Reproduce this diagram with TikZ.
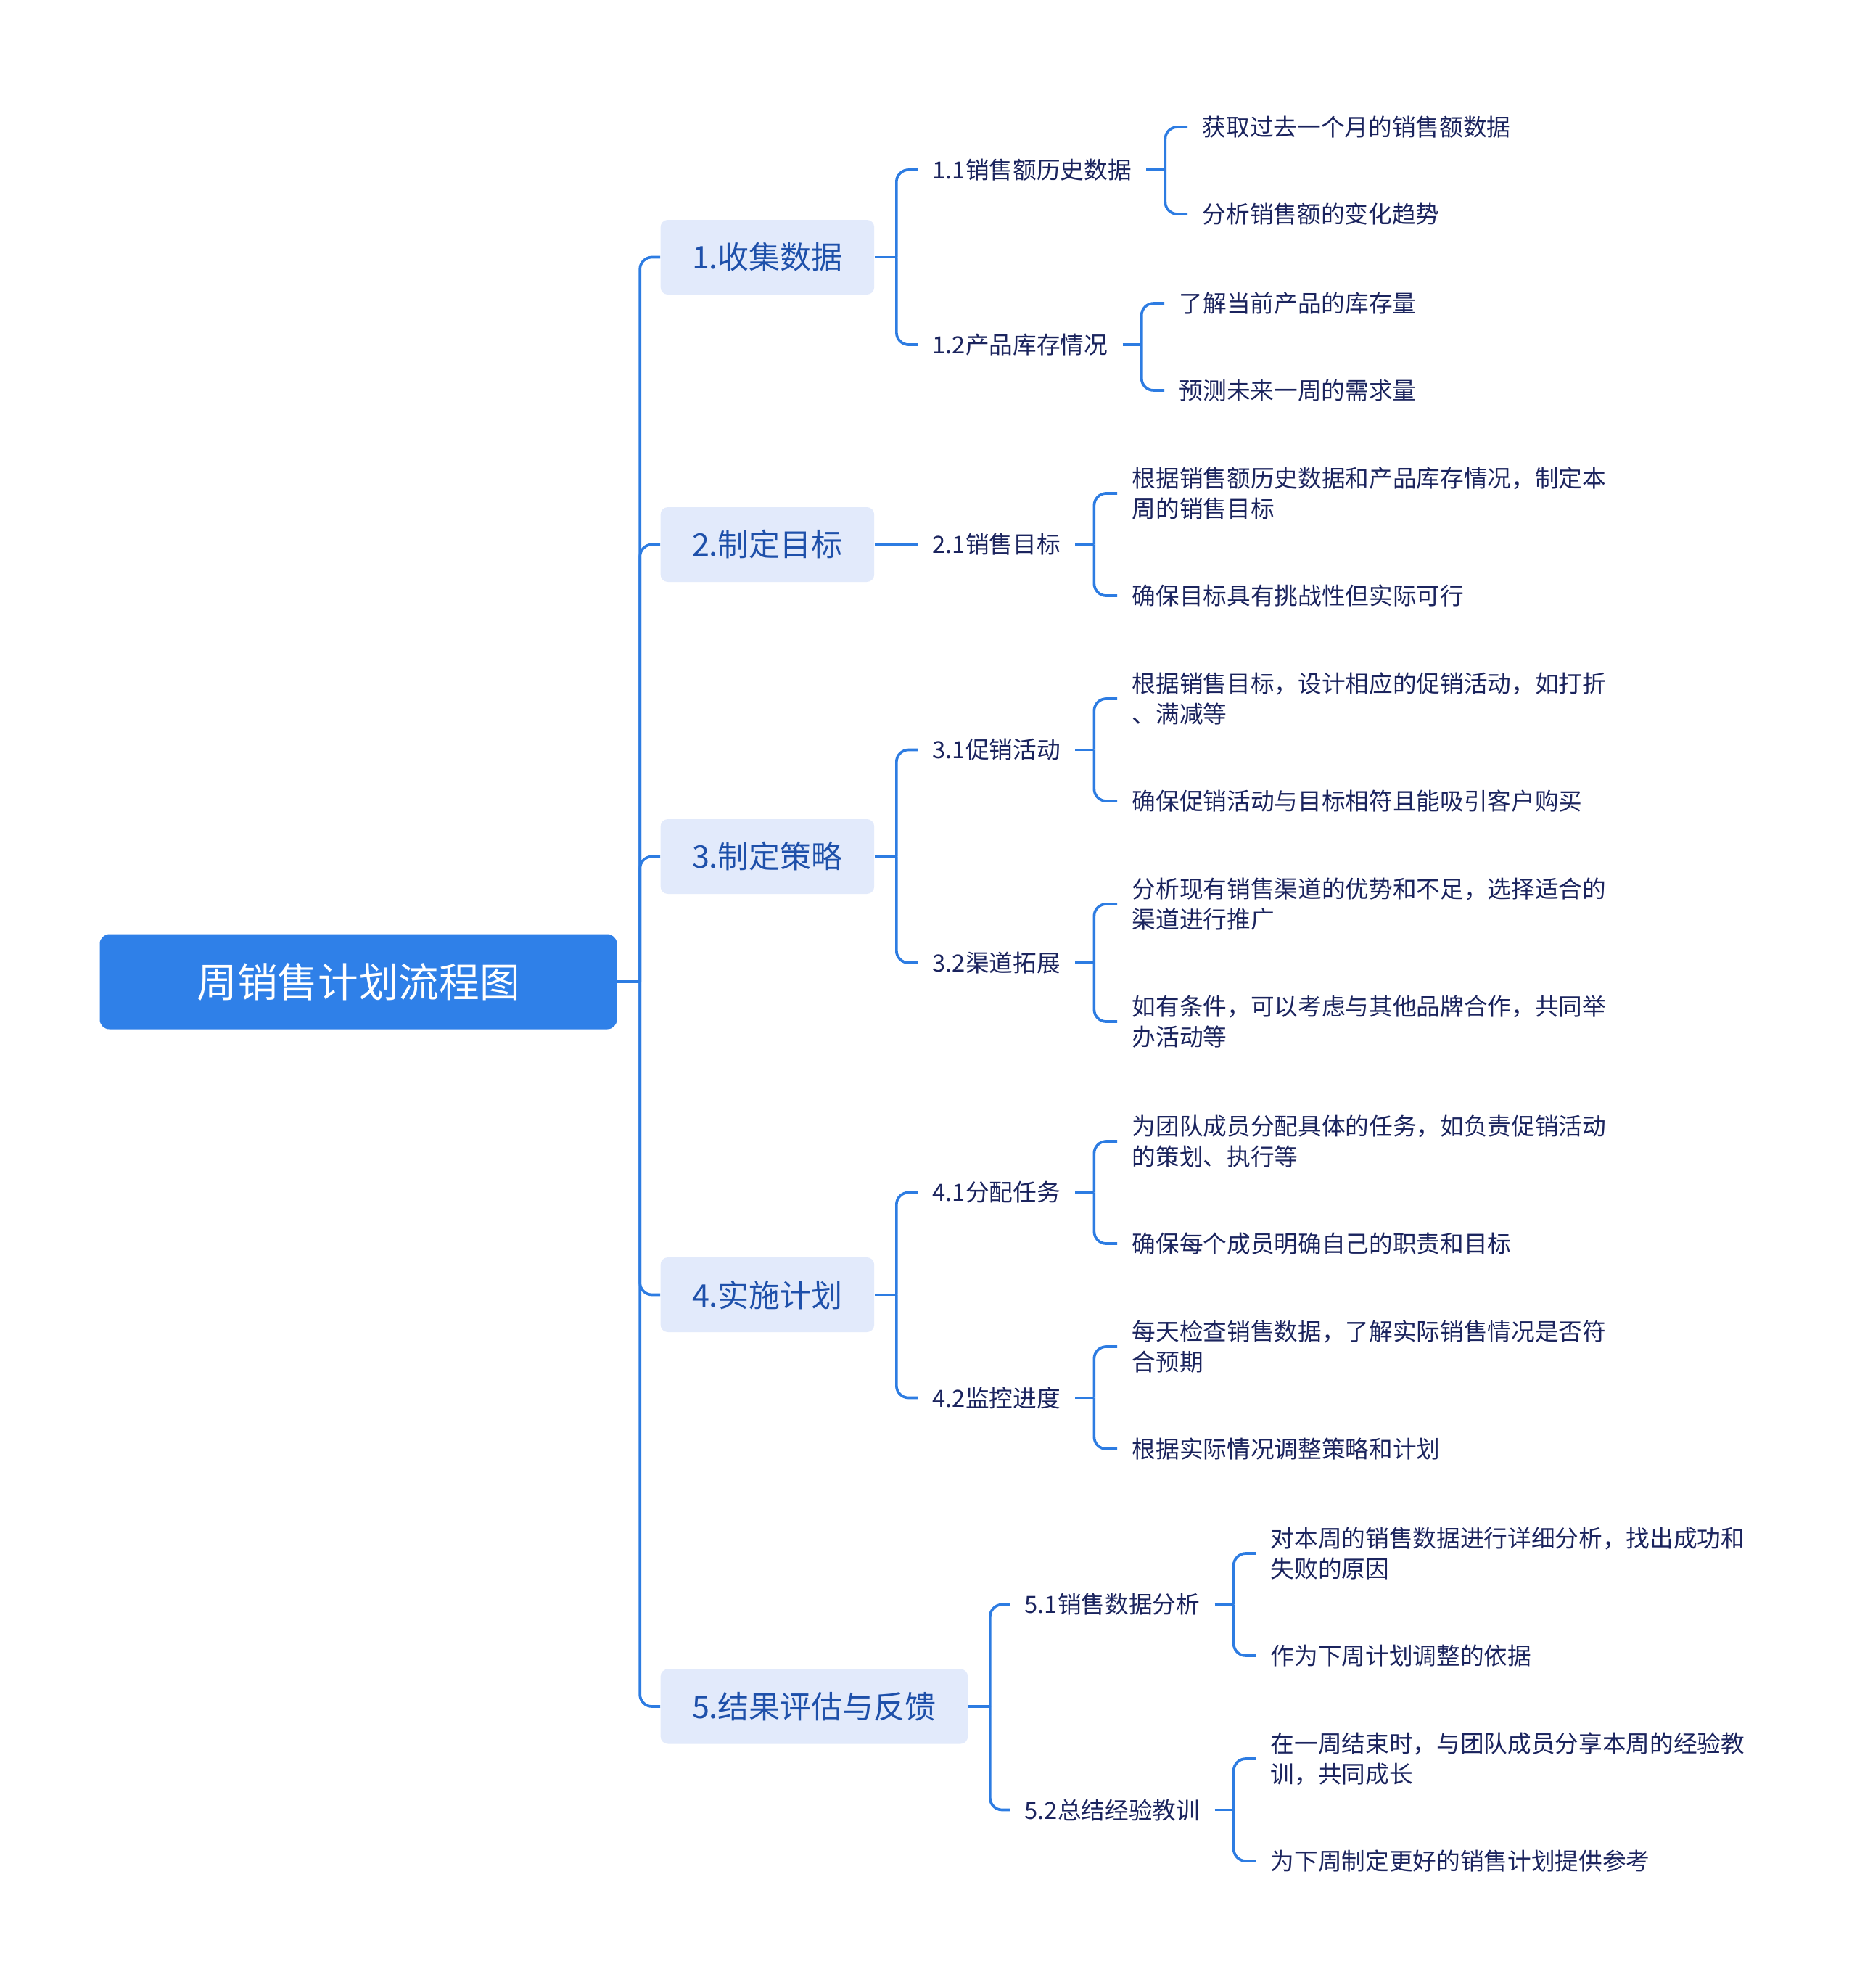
\documentclass[tikz,border=0pt]{standalone}
\usepackage{fontspec}
\setmainfont{Noto Sans CJK SC}
\usepackage{xcolor}
\usepackage{tikz}
\usetikzlibrary{calc}
\definecolor{rootfill}{RGB}{47,128,232}
\definecolor{topicfill}{RGB}{226,234,251}
\definecolor{topictext}{RGB}{30,80,170}
\definecolor{detailtext}{RGB}{27,36,94}
\definecolor{linkblue}{RGB}{45,124,226}

\begin{document}
\begin{tikzpicture}[x=30pt, y=-30pt,
  rootbox/.style={fill=rootfill, text=white, rounded corners=4pt, minimum width=213.9pt, minimum height=39.3pt, font=\fontsize{16.7pt}{20pt}\selectfont},
  topic/.style={fill=topicfill, text=topictext, rounded corners=3pt, anchor=west, minimum height=30.9pt, inner xsep=13pt, font=\fontsize{12.9pt}{15pt}\selectfont},
  subtopic/.style={text=detailtext, anchor=west, inner xsep=6pt, inner ysep=2pt, font=\fontsize{9.8pt}{12.6pt}\selectfont},
  detail/.style={subtopic, align=left},
  link/.style={draw=linkblue, line width=1.1pt},
  elbow/.style={link, rounded corners=5pt}]
\useasboundingbox (0,0) rectangle (25.6,27.4);

\node(root)[rootbox] at (4.94, 13.53) {周销售计划流程图};

\node(t1)[topic] at (9.10, 3.545) {1.收集数据};
\node(t2)[topic] at (9.10, 7.505) {2.制定目标};
\node(t3)[topic] at (9.10, 11.805) {3.制定策略};
\node(t4)[topic] at (9.10, 17.845) {4.实施计划};
\node(t5)[topic] at (9.10, 23.52) {5.结果评估与反馈};

\node(s11)[subtopic] at (12.65, 2.34) {1.1销售额历史数据};
\node(s12)[subtopic] at (12.65, 4.75) {1.2产品库存情况};
\node(s21)[subtopic] at (12.65, 7.505) {2.1销售目标};
\node(s31)[subtopic] at (12.65, 10.335) {3.1促销活动};
\node(s32)[subtopic] at (12.65, 13.27) {3.2渠道拓展};
\node(s41)[subtopic] at (12.65, 16.435) {4.1分配任务};
\node(s42)[subtopic] at (12.65, 19.265) {4.2监控进度};
\node(s51)[subtopic] at (13.92, 22.115) {5.1销售数据分析};
\node(s52)[subtopic] at (13.92, 24.945) {5.2总结经验教训};

\node(s11a)[detail] at (16.37, 1.75) {获取过去一个月的销售额数据};
\node(s11b)[detail] at (16.37, 2.95) {分析销售额的变化趋势};
\node(s12a)[detail] at (16.05, 4.18) {了解当前产品的库存量};
\node(s12b)[detail] at (16.05, 5.38) {预测未来一周的需求量};
\node(s21a)[detail] at (15.40, 6.80) {根据销售额历史数据和产品库存情况，制定本\\周的销售目标};
\node(s21b)[detail] at (15.40, 8.21) {确保目标具有挑战性但实际可行};
\node(s31a)[detail] at (15.40, 9.63) {根据销售目标，设计相应的促销活动，如打折\\、满减等};
\node(s31b)[detail] at (15.40, 11.04) {确保促销活动与目标相符且能吸引客户购买};
\node(s32a)[detail] at (15.40, 12.46) {分析现有销售渠道的优势和不足，选择适合的\\渠道进行推广};
\node(s32b)[detail] at (15.40, 14.08) {如有条件，可以考虑与其他品牌合作，共同举\\办活动等};
\node(s41a)[detail] at (15.40, 15.73) {为团队成员分配具体的任务，如负责促销活动\\的策划、执行等};
\node(s41b)[detail] at (15.40, 17.14) {确保每个成员明确自己的职责和目标};
\node(s42a)[detail] at (15.40, 18.56) {每天检查销售数据，了解实际销售情况是否符\\合预期};
\node(s42b)[detail] at (15.40, 19.97) {根据实际情况调整策略和计划};
\node(s51a)[detail] at (17.31, 21.41) {对本周的销售数据进行详细分析，找出成功和\\失败的原因};
\node(s51b)[detail] at (17.31, 22.82) {作为下周计划调整的依据};
\node(s52a)[detail] at (17.31, 24.24) {在一周结束时，与团队成员分享本周的经验教\\训，共同成长};
\node(s52b)[detail] at (17.31, 25.65) {为下周制定更好的销售计划提供参考};

% trunk
\draw[link] (root.east) -- ($(root.east)+(0.31,0)$);
\foreach \c in {t1,t2,t3,t4,t5}
  \draw[elbow] ($(root.east)+(0.31,0)$) |- (\c.west);

% topics to subtopics
\foreach \p in {t1,t3,t4,t5}
  \draw[link] (\p.east) -- ++(0.30,0);
\foreach \p/\c in {t1/s11, t1/s12, t3/s31, t3/s32, t4/s41, t4/s42, t5/s51, t5/s52}
  \draw[elbow] ($(\p.east)+(0.30,0)$) |- (\c.west);
\draw[link] (t2.east) -- (s21.west);

% subtopics to details
\foreach \p in {s11,s12,s21,s31,s32,s41,s42,s51,s52}
  \draw[link] (\p.east) -- ++(0.26,0);
\foreach \p in {s11,s12,s21,s31,s32,s41,s42,s51,s52}
  \foreach \c in {a,b}
    \draw[elbow] ($(\p.east)+(0.26,0)$) |- (\p\c.west);
\end{tikzpicture}
\end{document}
